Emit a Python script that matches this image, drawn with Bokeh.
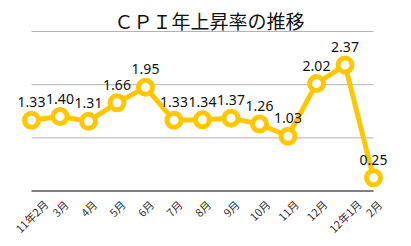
import math
from bokeh.plotting import figure
from bokeh.models import ColumnDataSource, Range1d, Label
from bokeh.core.properties import value
from bokeh.embed import file_html
from bokeh.resources import INLINE

# ---- data ----
months = ["11年2月", "3月", "4月", "5月", "6月", "7月", "8月", "9月", "10月",
          "11月", "12月", "12年1月", "2月"]
cpi = [1.33, 1.40, 1.31, 1.66, 1.95, 1.33, 1.34, 1.37, 1.26, 1.03, 2.02, 2.37, 0.25]
grid_levels = [0, 1, 2, 3]
title_text = "ＣＰＩ年上昇率の推移"

GOLD = "#FFC700"
W, H = 411, 246

idx = list(range(len(months)))

# pixel layout of the frame (frame covers the whole canvas)
x_px0, x_px1 = 31.0, 373.0          # screen x of first and last category
y_px0, y_px3 = 190.5, 31.0          # screen y of value 0 and value 3
sx = (x_px1 - x_px0) / (len(months) - 1)
sy = (y_px0 - y_px3) / 3.0

x_range = Range1d(-x_px0 / sx, (len(months) - 1) + (W - x_px1) / sx)
y_range = Range1d(-(H - y_px0) / sy, 3 + y_px3 / sy)

p = figure(width=W, height=H, x_range=x_range, y_range=y_range,
           x_axis_location=None, y_axis_location=None,
           toolbar_location=None, output_backend="svg", min_border=0)
p.outline_line_color = None
p.grid.visible = False
p.background_fill_color = "white"
p.border_fill_color = "white"

# gridlines and baseline spanning the category extent
gsrc = ColumnDataSource(dict(x0=[idx[0]] * 3, x1=[idx[-1]] * 3, y=grid_levels[1:]))
p.segment(x0="x0", y0="y", x1="x1", y1="y", source=gsrc,
          line_color="#b4b4b4", line_width=1)
p.segment(x0=[idx[0]], y0=[grid_levels[0]], x1=[idx[-1]], y1=[grid_levels[0]],
          line_color="#555555", line_width=1.5)

src = ColumnDataSource(dict(x=idx, y=cpi, lbl=[f"{v:.2f}" for v in cpi]))
p.line("x", "y", source=src, line_color=GOLD, line_width=5)
p.scatter("x", "y", source=src, size=14, fill_color="white",
          line_color=GOLD, line_width=5)
p.text("x", "y", text="lbl", source=src, y_offset=-18,
       text_align="center", text_baseline="middle",
       text_font=value("Noto Sans"), text_font_size="14px", text_color="#111111")

# category labels rotated 45 degrees, centred under each category
fs = 11
def est_len(s):
    return sum(0.5 * fs if c.isascii() else fs for c in s)

tsrc = ColumnDataSource(dict(
    x=idx, y=[0] * len(idx), t=months,
    yo=[8.5 + 0.354 * (est_len(m) + 8) for m in months]))
p.text("x", "y", text="t", source=tsrc, y_offset="yo", angle=math.pi / 4,
       text_align="center", text_baseline="middle",
       text_font=value("Noto Sans CJK JP"), text_font_size=f"{fs}px",
       text_color="#333333")

p.add_layout(Label(x=209, y=H - 20, x_units="screen", y_units="screen",
                   text=title_text, text_align="center", text_baseline="middle",
                   text_font="Noto Sans CJK JP", text_font_size="19px",
                   text_color="#111111"))

open("out.html", "w").write(file_html(p, INLINE))
